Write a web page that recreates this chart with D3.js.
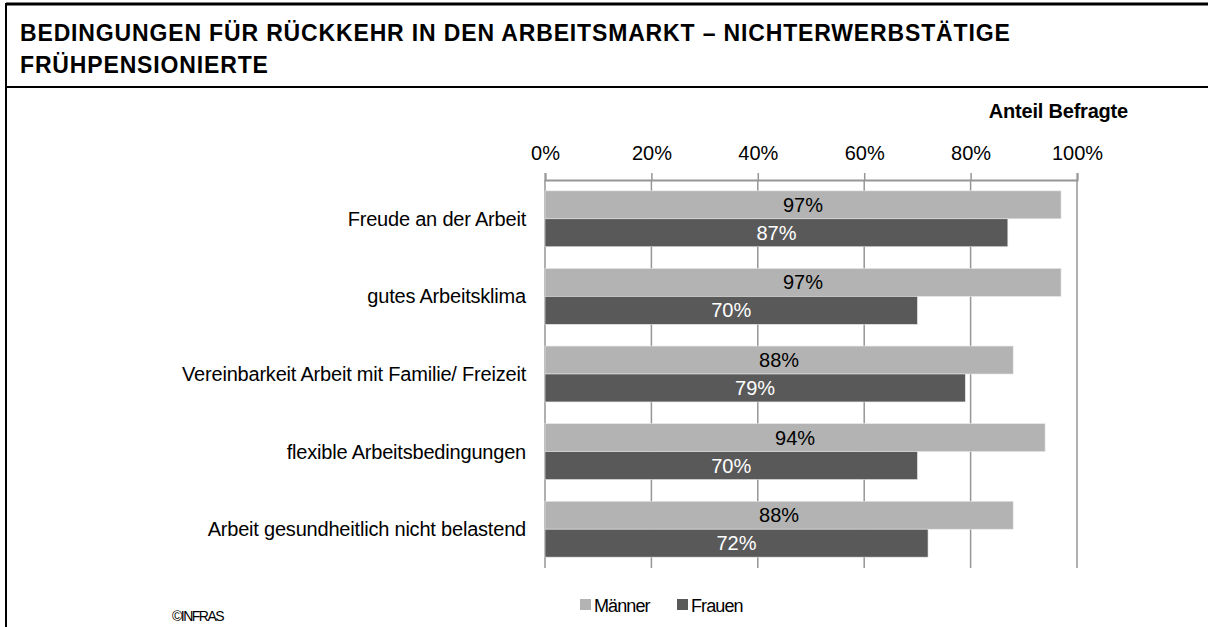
<!DOCTYPE html>
<html>
<head>
<meta charset="utf-8">
<script src="https://cdn.jsdelivr.net/npm/d3@7"></script>
<style>
	body{margin:0;background:#fff;}
	svg{display:block;font-family:"Liberation Sans",Arial,sans-serif;}
	.title{font-weight:bold;font-size:23px;letter-spacing:0.85px;fill:#000;}
	.catLabel{font-size:20px;letter-spacing:-0.2px;fill:#000;}
	.tickLabel{font-size:20px;fill:#000;}
	.valLabel{font-size:20px;}
	.legend{font-size:18px;letter-spacing:-0.9px;fill:#000;}
</style>
</head>
<body>
<script>
(function(){
	//chart data
	var categories=["Freude an der Arbeit","gutes Arbeitsklima","Vereinbarkeit Arbeit mit Familie/ Freizeit","flexible Arbeitsbedingungen","Arbeit gesundheitlich nicht belastend"];
	var maenner=[97,97,88,94,88];
	var frauen=[87,70,79,70,72];
	var seriesNames=["Männer","Frauen"];
	var tickValues=[0,20,40,60,80,100];

	var colors=["#b3b3b3","#595959"];
	var labelColors=["#000","#fff"];

	var width=1208,height=627;

	var svg=d3.select("body")
		.append("svg")
		.attr("width",width)
		.attr("height",height);

	//outer frame and title band
	svg.append("line").attr("x1",6).attr("x2",width).attr("y1",4).attr("y2",4)
		.attr("stroke","#000").attr("stroke-width",3);
	svg.append("line").attr("x1",6).attr("x2",width).attr("y1",87).attr("y2",87)
		.attr("stroke","#000").attr("stroke-width",2);
	svg.append("line").attr("x1",6).attr("x2",6).attr("y1",3).attr("y2",height)
		.attr("stroke","#000").attr("stroke-width",2);

	svg.append("text").attr("class","title").attr("x",20).attr("y",41)
		.text("BEDINGUNGEN FÜR RÜCKKEHR IN DEN ARBEITSMARKT – NICHTERWERBSTÄTIGE");
	svg.append("text").attr("class","title").attr("x",20).attr("y",73)
		.text("FRÜHPENSIONIERTE");

	//plot area
	var left=545,right=1077,top=180,bottom=568;

	var xScale=d3.scaleLinear()
		.domain([0,100])
		.range([left,right]);

	var yScale=d3.scaleBand()
		.domain(categories)
		.range([top,bottom])
		.paddingInner(0.28)
		.paddingOuter(0.14);

	var ySub=d3.scaleBand()
		.domain(seriesNames)
		.range([0,yScale.bandwidth()]);

	//gridlines
	svg.selectAll(".grid")
		.data(tickValues)
		.enter()
		.append("line")
		.attr("class","grid")
		.attr("x1",function(d){return xScale(d);})
		.attr("x2",function(d){return xScale(d);})
		.attr("y1",top)
		.attr("y2",bottom)
		.attr("stroke","#969696")
		.attr("stroke-width",1.5);

	//top axis
	var xAxis=d3.axisTop(xScale)
		.tickValues(tickValues)
		.tickSize(7)
		.tickPadding(13)
		.tickFormat(function(d){return d+"%";});

	var axis=svg.append("g")
		.attr("transform","translate(0,"+top+")")
		.call(xAxis);
	axis.select(".domain").attr("stroke","#969696").attr("stroke-width",2);
	axis.selectAll(".tick line").attr("stroke","#969696").attr("stroke-width",1.5);
	axis.selectAll(".tick text").attr("class","tickLabel").attr("font-size",null).attr("font-family",null);

	//axis title
	svg.append("text")
		.attr("x",1128)
		.attr("y",118)
		.attr("text-anchor","end")
		.attr("font-size","20px")
		.attr("font-weight","bold")
		.attr("letter-spacing","-0.2px")
		.text("Anteil Befragte");

	//bars
	var rows=categories.map(function(c,i){
		return [{cat:c,s:0,v:maenner[i]},{cat:c,s:1,v:frauen[i]}];
	});
	var flat=[].concat.apply([],rows);

	svg.selectAll(".bar")
		.data(flat)
		.enter()
		.append("rect")
		.attr("class","bar")
		.attr("x",xScale(0))
		.attr("y",function(d){return yScale(d.cat)+ySub(seriesNames[d.s]);})
		.attr("width",function(d){return xScale(d.v)-xScale(0);})
		.attr("height",ySub.bandwidth())
		.attr("fill",function(d){return colors[d.s];})
		.attr("stroke","#e6e6e6")
		.attr("stroke-width",0.6);

	svg.selectAll(".valLabel")
		.data(flat)
		.enter()
		.append("text")
		.attr("class","valLabel")
		.attr("x",function(d){return (xScale(0)+xScale(d.v))/2;})
		.attr("y",function(d){return yScale(d.cat)+ySub(seriesNames[d.s])+ySub.bandwidth()/2+7;})
		.attr("text-anchor","middle")
		.attr("fill",function(d){return labelColors[d.s];})
		.text(function(d){return d.v+"%";});

	//category labels
	svg.selectAll(".catLabel")
		.data(categories)
		.enter()
		.append("text")
		.attr("class","catLabel")
		.attr("x",526)
		.attr("y",function(d){return yScale(d)+yScale.bandwidth()/2+7;})
		.attr("text-anchor","end")
		.text(function(d){return d;});

	//legend
	var legend=svg.selectAll(".legendItem")
		.data(seriesNames)
		.enter()
		.append("g")
		.attr("transform",function(d,i){return "translate("+(580+i*97)+",0)";});
	legend.append("rect")
		.attr("x",0).attr("y",599)
		.attr("width",11).attr("height",11)
		.attr("fill",function(d,i){return colors[i];});
	legend.append("text")
		.attr("class","legend")
		.attr("x",14).attr("y",612)
		.text(function(d){return d;});

	//source
	svg.append("text")
		.attr("x",172).attr("y",621)
		.attr("font-size","14px")
		.attr("letter-spacing","-1.5px")
		.text("©INFRAS");
})();
</script>
</body>
</html>
